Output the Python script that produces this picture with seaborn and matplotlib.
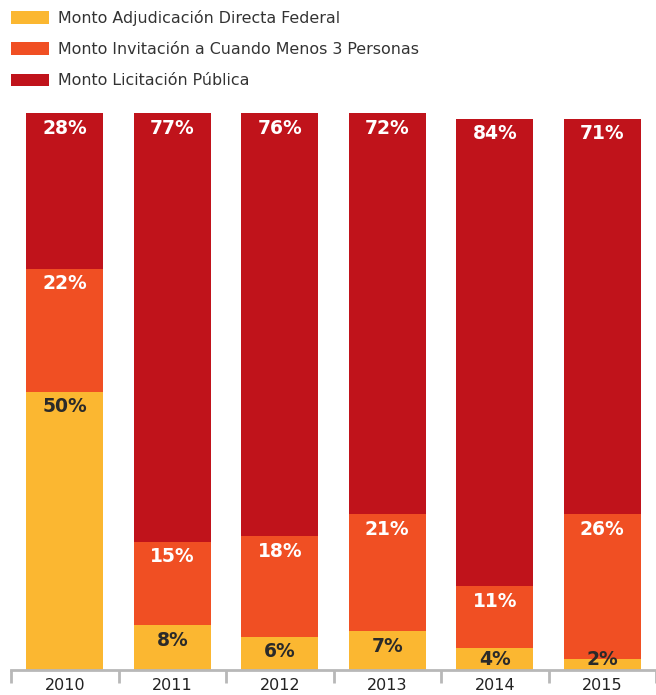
import matplotlib
matplotlib.use("Agg")
import matplotlib.pyplot as plt
import matplotlib.patches as mpatches
import numpy as np
import pandas as pd
import seaborn as sns

years = ["2010", "2011", "2012", "2013", "2014", "2015"]
adjudicacion = [50, 8, 6, 7, 4, 2]
invitacion = [22, 15, 18, 21, 11, 26]
licitacion = [28, 77, 76, 72, 84, 71]
series_names = ["Monto Adjudicación Directa Federal",
                "Monto Invitación a Cuando Menos 3 Personas",
                "Monto Licitación Pública"]
colors = ["#FBB731", "#F04F23", "#C0131B"]

sns.set_style("white")
plt.rcParams['font.family'] = ['DejaVu Sans']

fig = plt.figure(figsize=(6.56, 6.95), dpi=100)
ax = fig.add_axes([11/656, 25/695, 645/656, 557/695])

a = np.array(adjudicacion, dtype=float)
b = np.array(invitacion, dtype=float)
c = np.array(licitacion, dtype=float)
cum1 = a
cum2 = a + b
cum3 = a + b + c

df = pd.DataFrame({"year": years, "c1": cum1, "c2": cum2, "c3": cum3})
for col, colr in zip(["c3", "c2", "c1"], colors[::-1]):
    sns.barplot(data=df, x="year", y=col, color=colr, width=0.72,
                saturation=1, ax=ax, linewidth=0, edgecolor="none")

# labels
for i in range(len(years)):
    for val, top, tc in [(a[i], cum1[i], "#2a2a2a"),
                         (b[i], cum2[i], "white"),
                         (c[i], cum3[i], "white")]:
        y = max(top - 2.7, 1.8)
        ax.text(i, y, f"{int(val)}%", ha="center", va="center",
                fontsize=13.5, fontweight="bold", color=tc)

ax.set_xlim(-0.5, 5.5)
ax.set_ylim(0, 100)
ax.set_xlabel("")
ax.set_ylabel("")
ax.set_yticks([])
for s in ["top", "right", "left"]:
    ax.spines[s].set_visible(False)
ax.spines["bottom"].set_color("#b8b8b8")
ax.spines["bottom"].set_linewidth(2)
ax.set_xticks(np.arange(-0.5, 6.0, 1.0), minor=True)
ax.tick_params(axis="x", which="major", length=0, labelsize=11.5,
               labelcolor="#222222", pad=6)
ax.tick_params(axis="x", which="minor", length=9.5, width=2,
               color="#b8b8b8", direction="out", bottom=True)

handles = [mpatches.Patch(facecolor=col, edgecolor="none", label=n)
           for n, col in zip(series_names, colors)]
fig.legend(handles=handles, loc="upper left",
           bbox_to_anchor=(11/656, 1 - 10/695), frameon=False,
           fontsize=11.4, handlelength=2.4, handleheight=0.82,
           handletextpad=0.58, labelspacing=1.02, borderpad=0,
           borderaxespad=0, labelcolor="#333333")

fig.savefig("out.png", dpi=100)
